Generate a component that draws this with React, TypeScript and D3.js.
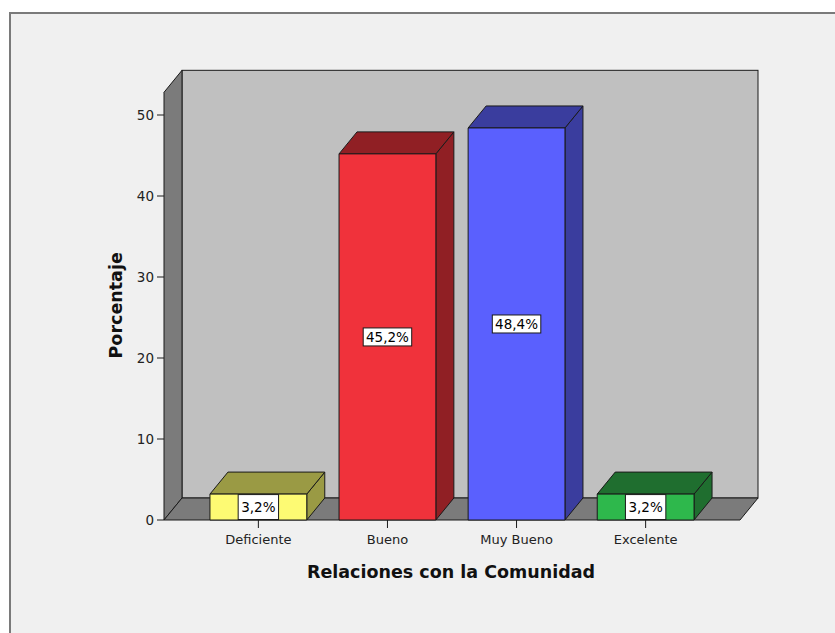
import React from "react";
import * as d3 from "d3";

// Relaciones con la Comunidad — percentage per rating
const categories: string[] = ["Deficiente", "Bueno", "Muy Bueno", "Excelente"];
const percentages: number[] = [3.2, 45.2, 48.4, 3.2];
const valueLabels: string[] = ["3,2%", "45,2%", "48,4%", "3,2%"];
const yTicks: number[] = [0, 10, 20, 30, 40, 50];

const frontColors = ["#fdfa73", "#f0323b", "#5a60fe", "#2eb84c"];
const shadeColors = ["#9a9a44", "#901f24", "#3a3d9e", "#1f6e2f"];

const W = 835;
const H = 633;
const DX = 18; // depth offset of the 3D walls and bars
const DY = -22;
const FONT = "'DejaVu Sans', Verdana, sans-serif";

export default function App() {
  const x = d3
    .scaleBand<string>()
    .domain(categories)
    .range([164, 740])
    .paddingInner(0.25)
    .paddingOuter(0.356);
  const y = d3.scaleLinear().domain([0, 50]).range([520, 115]);

  const x0 = x.range()[0];
  const x1 = x.range()[1];
  const yBase = y(0);
  const yTop = y(52.8);

  const pts = (arr: [number, number][]) => arr.map((p) => p.join(",")).join(" ");

  return (
    <svg
      width={W}
      height={H}
      style={{ position: "absolute", left: 0, top: 0, display: "block" }}
      fontFamily={FONT}
    >
      <rect x={0} y={0} width={W} height={H} fill="#ffffff" />
      {/* chart frame */}
      <rect x={10} y={13} width={W + 20} height={H + 20} fill="#f0f0f0" stroke="#7a7a7a" strokeWidth={2} />

      {/* back wall */}
      <rect
        x={x0 + DX}
        y={yTop + DY}
        width={x1 - x0}
        height={yBase - yTop}
        fill="#c0c0c0"
        stroke="#1a1a1a"
        strokeWidth={1}
      />
      {/* left side wall */}
      <polygon
        points={pts([
          [x0, yBase],
          [x0, yTop],
          [x0 + DX, yTop + DY],
          [x0 + DX, yBase + DY],
        ])}
        fill="#7b7b7b"
        stroke="#1a1a1a"
        strokeWidth={1}
        strokeLinejoin="round"
      />
      {/* floor */}
      <polygon
        points={pts([
          [x0, yBase],
          [x0 + DX, yBase + DY],
          [x1 + DX, yBase + DY],
          [x1, yBase],
        ])}
        fill="#7b7b7b"
        stroke="#1a1a1a"
        strokeWidth={1}
        strokeLinejoin="round"
      />

      {/* bars */}
      {categories.map((c, i) => {
        const bx = x(c)!;
        const bw = x.bandwidth();
        const by = y(percentages[i]);
        return (
          <g key={c} stroke="#1a1a1a" strokeWidth={1} strokeLinejoin="round">
            <polygon
              points={pts([
                [bx + bw, yBase],
                [bx + bw, by],
                [bx + bw + DX, by + DY],
                [bx + bw + DX, yBase + DY],
              ])}
              fill={shadeColors[i]}
            />
            <polygon
              points={pts([
                [bx, by],
                [bx + DX, by + DY],
                [bx + bw + DX, by + DY],
                [bx + bw, by],
              ])}
              fill={shadeColors[i]}
            />
            <rect x={bx} y={by} width={bw} height={yBase - by} fill={frontColors[i]} />
          </g>
        );
      })}

      {/* value labels */}
      {categories.map((c, i) => {
        const cx = x(c)! + x.bandwidth() / 2;
        const by = y(percentages[i]);
        const faceH = yBase - by;
        const cy = by + faceH / 2;
        const textW = valueLabels[i].length * 8.1;
        const boxW = textW + 8;
        const boxH = faceH < 30 ? faceH - 1 : 18;
        return (
          <g key={"lbl" + c}>
            <rect
              x={cx - boxW / 2}
              y={cy - boxH / 2}
              width={boxW}
              height={boxH}
              fill="#ffffff"
              stroke="#1a1a1a"
              strokeWidth={1}
            />
            <text x={cx} y={cy} textAnchor="middle" dominantBaseline="central" fontSize={13.5} fill="#000">
              {valueLabels[i]}
            </text>
          </g>
        );
      })}

      {/* y axis ticks */}
      {yTicks.map((t) => (
        <g key={"yt" + t}>
          <line x1={x0 - 7} x2={x0} y1={y(t)} y2={y(t)} stroke="#1a1a1a" strokeWidth={1} />
          <text x={x0 - 10} y={y(t)} textAnchor="end" dominantBaseline="central" fontSize={13.5} fill="#222">
            {t}
          </text>
        </g>
      ))}

      {/* category ticks */}
      {categories.map((c) => {
        const cx = x(c)! + x.bandwidth() / 2;
        return (
          <g key={"xt" + c}>
            <line x1={cx} x2={cx} y1={yBase} y2={yBase + 8} stroke="#1a1a1a" strokeWidth={1} />
            <text x={cx} y={yBase + 24} textAnchor="middle" fontSize={13} fill="#222">
              {c}
            </text>
          </g>
        );
      })}

      {/* axis titles */}
      <text x={451} y={578} textAnchor="middle" fontSize={17.5} fontWeight="bold" fill="#111">
        Relaciones con la Comunidad
      </text>
      <text
        transform={`translate(122, ${y(26.5)}) rotate(-90)`}
        textAnchor="middle"
        fontSize={17.5}
        fontWeight="bold"
        fill="#111"
      >
        Porcentaje
      </text>
    </svg>
  );
}
